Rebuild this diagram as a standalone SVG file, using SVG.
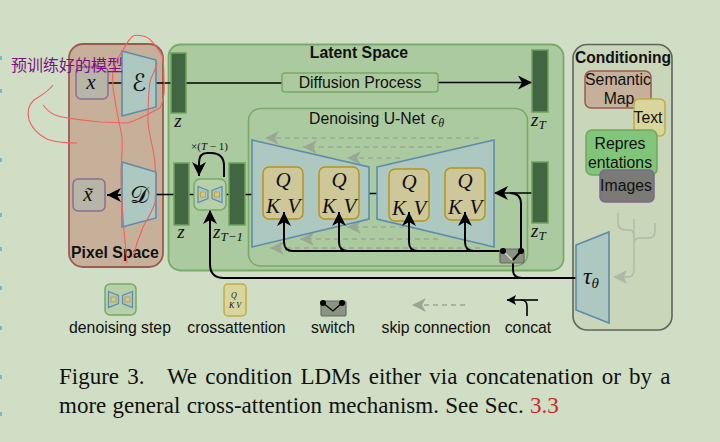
<svg xmlns="http://www.w3.org/2000/svg" width="720" height="442" viewBox="0 0 720 442">
<style>
.sans{font-family:"Liberation Sans",Arial,sans-serif;fill:#111}
.label{font-size:15.800px}
.serif{font-family:"Liberation Serif","Times New Roman",serif;fill:#111}
.math{font-family:"Liberation Serif","Times New Roman",serif;font-style:italic;fill:#111}
.cal{font-family:"DejaVu Sans","Noto Sans",sans-serif;fill:#111}
.mid{text-anchor:middle}
.bar{fill:#426641;stroke:#6ea35c;stroke-width:1.5}
.trap{fill:#adc8c0;stroke:#5f8bab;stroke-width:1.6}
.qkv{fill:#cdc79a;stroke:#b8941c;stroke-width:1.5}
.line{fill:none;stroke:#000;stroke-width:1.6}
.thick{fill:none;stroke:#000;stroke-width:2}
.skip{fill:none;stroke:#99a893;stroke-width:1.3;stroke-dasharray:5 4}
.scribble{fill:none;stroke:#f2605f;stroke-width:1.100}
</style>
<defs>
<marker id="head" markerUnits="userSpaceOnUse" markerWidth="15" markerHeight="14" refX="14" refY="7" orient="auto"><path d="M0 0L14 7L0 14L4 7Z" fill="#000"/></marker>
<marker id="skiphead" markerUnits="userSpaceOnUse" markerWidth="15" markerHeight="14" refX="14" refY="7" orient="auto"><path d="M0 0L14 7L0 14L4 7Z" fill="#99a893"/></marker>
<marker id="smallhead" markerUnits="userSpaceOnUse" markerWidth="10" markerHeight="10" refX="9" refY="5" orient="auto"><path d="M0 0L9 5L0 10L2 5Z" fill="#000"/></marker>
<g id="qkv-text">
<text class="math mid" x="0" y="-6" font-size="21">Q</text>
<text class="math mid" x="-10" y="20" font-size="21">K</text>
<text class="math mid" x="11" y="20" font-size="21">V</text>
</g>
<g id="mini-unet">
<path d="M-12 -8L-2 -4V4L-12 8Z" fill="#adc8c0" stroke="#5f8bab" stroke-width="1.200"/>
<path d="M12 -8L2 -4V4L12 8Z" fill="#adc8c0" stroke="#5f8bab" stroke-width="1.200"/>
<rect x="-9.500" y="-2.500" width="5" height="5" fill="#cdc79a" stroke="#c4a52a" stroke-width="1"/>
<rect x="4.500" y="-2.500" width="5" height="5" fill="#cdc79a" stroke="#c4a52a" stroke-width="1"/>
</g>
</defs>
<rect width="720" height="442" fill="#cfdec4"/>
<!-- margin ticks -->
<g fill="#7fb6c8">
<rect x="0" y="56" width="2" height="4"/><rect x="0" y="89" width="2" height="4"/><rect x="0" y="158" width="2" height="4"/><rect x="0" y="213" width="2" height="4"/><rect x="0" y="247" width="2" height="4"/><rect x="0" y="286" width="2" height="4"/><rect x="0" y="326" width="2" height="4"/><rect x="0" y="375" width="2" height="4"/><rect x="0" y="412" width="2" height="4"/>
</g>
<!-- panels -->
<g id="pixel-space">
<rect x="69" y="44" width="94" height="223" rx="14" fill="#c6b09a" stroke="#985c52" stroke-width="1.800"/>
<text class="sans mid" x="115" y="258" font-size="15.800" font-weight="700">Pixel Space</text>
</g>
<g id="latent-space">
<rect x="168.500" y="44.500" width="395" height="226" rx="12" fill="#acca9f" stroke="#78a966" stroke-width="1.800"/>
<text class="sans mid" x="359" y="58" font-size="15.800" font-weight="700">Latent Space</text>
</g>
<g id="conditioning">
<rect x="573" y="44.500" width="99" height="285.500" rx="14" fill="#c9d6b9" stroke="#60655c" stroke-width="1.600"/>
<text class="sans mid" x="623" y="63" font-size="15.600" font-weight="700">Conditioning</text>
</g>
<g id="unet-panel">
<rect x="248.500" y="108.500" width="279" height="157.500" rx="12" fill="#acca9f" stroke="#78a966" stroke-width="1.500"/>
<text class="sans label" x="309" y="124" fill="#1b2b20">Denoising U-Net</text>
<text class="math" x="431" y="124" font-size="18">ϵ<tspan font-size="12" dy="3">θ</tspan></text>
</g>
<!-- connectors -->
<g id="connectors">
<path class="line" d="M108 83H122M156 83H171M186 83H282"/>
<path class="line" d="M438 82.500H532" marker-end="url(#head)"/>
<path class="thick" d="M122 195H107" marker-end="url(#head)"/>
<path class="line" d="M156 194.500H174M189 194.500H194M226 194.500H229M245 194.500H252M369 193.500H377"/>
<path class="line" d="M532 193H494" marker-end="url(#head)"/>
<path class="thick" d="M521 251V204Q521 193 510 193"/>
<path class="thick" d="M576 278H224Q210 278 210 264V210" marker-end="url(#head)"/>
<path class="thick" d="M530 278H522Q513 278 513 270V260L521 251"/>
<path class="thick" d="M224 177V166Q224 153 211 153H207Q199 153 199 163V176" marker-end="url(#head)"/>
<path class="skip" d="M479 138H265" marker-end="url(#skiphead)"/>
<path class="skip" d="M441 147H303" marker-end="url(#skiphead)"/>
<path class="skip" d="M400 158H347" marker-end="url(#skiphead)"/>
<path class="skip" d="M440 227H347" marker-end="url(#skiphead)"/>
<path class="skip" d="M438 239H300" marker-end="url(#skiphead)"/>
<path class="skip" d="M480 248H270" marker-end="url(#skiphead)"/>
</g>
<!-- latent bars -->
<g id="bar-z-top"><rect class="bar" x="171" y="53" width="15" height="60"/><text class="math mid" x="178" y="127" font-size="19">z</text></g>
<g id="bar-z"><rect class="bar" x="174" y="163" width="15" height="62"/><text class="math mid" x="181" y="238" font-size="19">z</text></g>
<g id="bar-z-t1"><rect class="bar" x="229" y="163" width="16" height="62"/><text class="math" x="213" y="238" font-size="19">z<tspan font-size="13" dy="3">T−1</tspan></text></g>
<g id="bar-zt-top"><rect class="bar" x="532" y="50" width="16" height="62"/><text class="math" x="531" y="126" font-size="19">z<tspan font-size="13" dy="3">T</tspan></text></g>
<g id="bar-zt"><rect class="bar" x="532" y="162" width="16" height="61"/><text class="math" x="531" y="237" font-size="19">z<tspan font-size="13" dy="3">T</tspan></text></g>
<!-- pixel-space nodes -->
<g id="node-x"><rect x="76" y="67" width="32" height="32" rx="5" fill="#b7b5a8" stroke="#8a6f92" stroke-width="1.500"/><text class="math mid" x="91" y="89" font-size="21">x</text></g>
<g id="node-x-tilde"><rect x="73" y="179" width="32" height="32" rx="5" fill="#b7b5a8" stroke="#8a6f92" stroke-width="1.500"/><text class="math mid" x="88" y="201" font-size="21">x̃</text></g>
<g id="encoder"><path class="trap" d="M122 51L156 60V107L122 116Z"/><text class="cal mid" x="139" y="91" font-size="24">ℰ</text></g>
<g id="decoder"><path class="trap" d="M122 162L156 172V218L122 227Z"/><text class="cal mid" x="139" y="203" font-size="24">𝒟</text></g>
<!-- latent-space nodes -->
<g id="diffusion-process"><rect x="282" y="73" width="156" height="19" rx="3" fill="#acca9f" stroke="#78a966" stroke-width="1.500"/><text class="sans mid label" x="360" y="88" fill="#1b2b20">Diffusion Process</text></g>
<g id="denoising-step">
<rect x="194" y="179" width="32" height="31" rx="6" fill="#b6d0a9" stroke="#78a966" stroke-width="1.500"/>
<use href="#mini-unet" x="210" y="194.500"/>
<text class="serif" x="191" y="150" font-size="11" fill="#333">×(<tspan font-style="italic">T</tspan> − 1)</text>
</g>
<g id="unet-encoder"><path class="trap" d="M252 140L369 167V219L252 247Z"/></g>
<g id="unet-decoder"><path class="trap" d="M377 167L494 140V247L377 219Z"/></g>
<g id="qkv-1"><rect class="qkv" x="263" y="167" width="40" height="52" rx="6"/><use href="#qkv-text" x="283" y="193"/></g>
<g id="qkv-2"><rect class="qkv" x="319" y="167" width="40" height="52" rx="6"/><use href="#qkv-text" x="339" y="193"/></g>
<g id="qkv-3"><rect class="qkv" x="389" y="169" width="40" height="52" rx="6"/><use href="#qkv-text" x="409" y="195"/></g>
<g id="qkv-4"><rect class="qkv" x="445" y="168" width="40" height="52" rx="6"/><use href="#qkv-text" x="465" y="194"/></g>
<g id="unet-arrows">
<path class="thick" d="M503 251H293Q284 251 284 242V212" marker-end="url(#head)"/>
<path class="thick" d="M348 251Q339 251 339 242V212" marker-end="url(#head)"/>
<path class="thick" d="M418 251Q409 251 409 242V212" marker-end="url(#head)"/>
<path class="thick" d="M474 251Q465 251 465 242V212" marker-end="url(#head)"/>
</g>
<g id="switch">
<rect x="500" y="249" width="24" height="14" rx="2" fill="#8a9483" stroke="#656b62" stroke-width="1.200"/>
<path d="M503 251L512 260" stroke="#dde3d6" stroke-width="1.200"/>
<path class="thick" d="M513 260L521 251"/>
<circle cx="503" cy="251" r="3" fill="#000"/><circle cx="521" cy="251" r="3" fill="#000"/>
</g>
<!-- conditioning nodes -->
<g id="semantic-map"><rect x="585" y="71" width="66" height="37" rx="6" fill="#c6b09a" stroke="#985c52" stroke-width="1.500"/><text class="sans mid label" x="618" y="85" fill="#1b2b20">Semantic</text><text class="sans mid label" x="619" y="104" fill="#1b2b20">Map</text></g>
<g id="text-input"><rect x="634" y="99" width="31" height="37" rx="5" fill="#d9d69d" stroke="#c4ac45" stroke-width="1.500"/><text class="sans mid label" x="648" y="123" fill="#1b2b20">Text</text></g>
<g id="representations"><rect x="586" y="130" width="71" height="45" rx="6" fill="#80c57a" stroke="#6fa75f" stroke-width="1.500"/><text class="sans mid label" x="620" y="149" fill="#25503a">Repres</text><text class="sans mid label" x="620" y="168" fill="#25503a">entations</text></g>
<g id="images"><rect x="600" y="170" width="54" height="32" rx="5" fill="#7a7a76" stroke="#7d6890" stroke-width="1.500"/><text class="sans mid label" x="626" y="191" fill="#111">Images</text></g>
<g id="conditioning-tree">
<path d="M618 213V222Q618 230 626 230H630Q634 230 634 238V270Q634 277 627 277H622M655 223V232Q655 238 648 238H640Q634 238 634 244M634 219V240" fill="none" stroke="#b0b9a8" stroke-width="1.400"/>
<path d="M613 277L627 270L624 277L627 284Z" fill="#b0b9a8"/>
</g>
<g id="tau"><path class="trap" d="M576 245L609 232V323L576 310Z"/><text class="math mid" x="591" y="284" font-size="24">τ<tspan font-size="15" dy="4">θ</tspan></text></g>
<!-- legend -->
<g id="legend-denoising-step"><rect x="105" y="284" width="31" height="31" rx="5" fill="#b6d0a9" stroke="#78a966" stroke-width="1.500"/><use href="#mini-unet" x="120.500" y="299.500"/><text class="sans mid label" x="120" y="333">denoising step</text></g>
<g id="legend-crossattention"><rect x="224" y="284" width="22" height="32" rx="4" fill="#d9d69d" stroke="#c4ac45" stroke-width="1.500"/><text class="math mid" x="234" y="298" font-size="8">Q</text><text class="math mid" x="235" y="308" font-size="8">K V</text><text class="sans mid label" x="236.500" y="333">crossattention</text></g>
<g id="legend-switch"><rect x="321" y="301" width="25" height="15" rx="2" fill="#8a9483" stroke="#656b62" stroke-width="1.200"/><path d="M323 303L333 311L342 303" fill="none" stroke="#000" stroke-width="1.300"/><circle cx="323" cy="303" r="3" fill="#000"/><circle cx="342" cy="303" r="3" fill="#000"/><text class="sans mid label" x="333" y="333">switch</text></g>
<g id="legend-skip"><path class="skip" d="M465 305H412" marker-end="url(#skiphead)"/><text class="sans mid label" x="436" y="333">skip connection</text></g>
<g id="legend-concat"><path class="line" d="M538 300H507" marker-end="url(#smallhead)"/><path class="line" d="M527 316V306Q527 300 521 300"/><text class="sans mid label" x="528" y="333">concat</text></g>
<!-- caption -->
<g id="caption">
<text class="serif" x="59" y="384" font-size="23" word-spacing="2.500">Figure 3.<tspan x="167">We condition LDMs either via concatenation or by a</tspan></text>
<text class="serif" x="59" y="413" font-size="23" word-spacing="0.600">more general cross-attention mechanism. See Sec. <tspan fill="#c8282c">3.3</tspan></text>
</g>
<!-- hand annotation -->
<g id="annotation">
<path class="scribble" d="M53 85C48 92 40 96 34 100C28 105 27 112 29 120C32 128 38 134 45 138C52 142 65 143 77 143"/>
<path class="scribble" d="M43 105C47 110 50 113 55 115C62 118 80 120 100 122L127 123C135 122 150 113 160 108C164 100 165 90 164 80C164 70 164 62 162 55C155 45 150 37 143 36C138 35 135 35 133 36C128 40 126 45 123 50C118 58 113 65 113 70C112 80 113 90 115 100C117 115 120 125 122 137C123 150 121 160 121 173C121 190 122 205 123 217C124 235 126 250 127 263"/>
<path class="scribble" d="M157 63C155 72 151 76 150 82C148 95 148 110 148 123C150 140 154 150 155 163C156 178 156 190 155 203C152 212 147 220 143 227C141 233 140 236 138 240C136 246 135 251 133 257"/>
<text x="11" y="71" font-size="16" font-family="'Noto Sans CJK SC','Noto Sans',sans-serif" fill="#7f0f85">预训练好的模型</text>
</g>
</svg>
